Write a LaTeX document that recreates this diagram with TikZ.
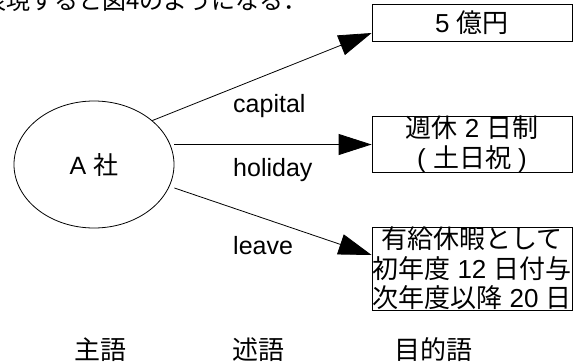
\documentclass[tikz,border=0pt]{standalone}
\usepackage{fontspec}
\setmainfont{Liberation Sans}
\newfontfamily\cjk{Noto Sans CJK JP}
\usetikzlibrary{arrows.meta,shapes.geometric}
\begin{document}
\begin{tikzpicture}[x=1pt,y=-1pt,
  box/.style={draw,line width=0.8pt,minimum width=200pt,inner sep=0pt,align=center,font=\fontsize{26}{29.5}\selectfont},
  lbl/.style={anchor=west,inner sep=0pt,font=\fontsize{25}{30}\selectfont},
  conn/.style={line width=0.8pt,-{Triangle[length=33pt,width=21pt]}},
  captext/.style={inner sep=0pt,font=\cjk\fontsize{26}{30}\selectfont}]
\useasboundingbox (0,0) rectangle (573,362);
\clip (0,0) rectangle (573,362);
\node[anchor=base west,inner sep=0pt,font=\cjk\fontsize{24}{28}\selectfont] (intro) at (-18,9) {表現すると図4のようになる．};
% ellipse
\node[draw,ellipse,line width=0.8pt,minimum width=160pt,minimum height=127pt,inner sep=0pt,font=\fontsize{25}{30}\selectfont] (a) at (94,164.5) {A {\cjk 社}};
% boxes
\node[box,minimum height=37pt] (b1) at (472,22.5) {5 {\cjk 億円}};
\node[box,minimum height=55pt] (b2) at (472,144.5) {{\cjk 週休} 2 {\cjk 日制}\\( {\cjk 土日祝} )};
\node[box,minimum height=81pt] (b3) at (472,268.5) {{\cjk 有給休暇として}\\{\cjk 初年度} 12 {\cjk 日付与}\\{\cjk 次年度以降} 20 {\cjk 日}};
% connectors
\draw[conn] (a.37) -- ([yshift=-10.5pt]b1.west);
\draw[conn] (a.east |- b2.west) -- (b2.west);
\draw[conn] ([yshift=-23.5pt]a.east) -- ([yshift=13.5pt]b3.west);
% labels
\node[lbl] (lc) at (233,106.5) {capital};
\node[lbl] (lh) at (233,170.5) {holiday};
\node[lbl] (ll) at (233,246) {leave};
% bottom captions
\node[captext] (s) at (100,349.5) {主語};
\node[captext] (p) at (258,349.5) {述語};
\node[captext] (o) at (433,349.5) {目的語};
\end{tikzpicture}
\end{document}
